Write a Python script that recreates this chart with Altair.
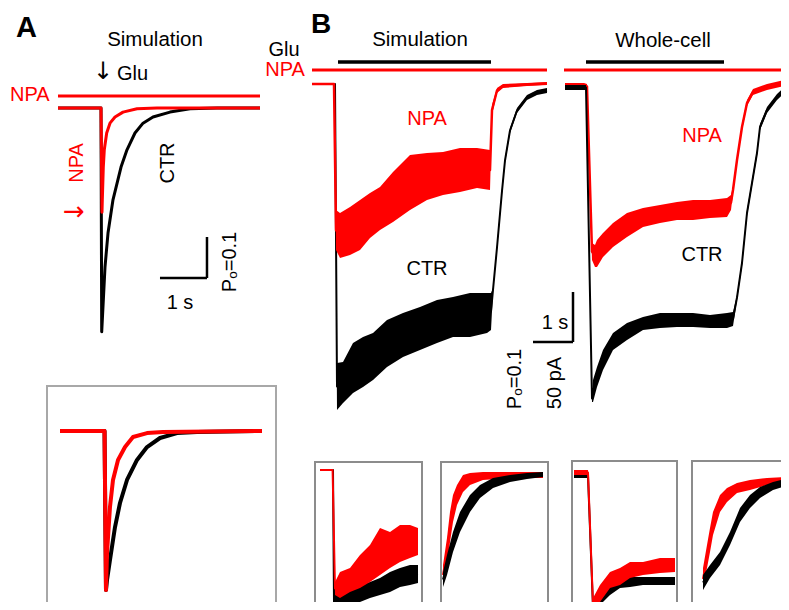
import altair as alt
import pandas as pd

# ---------------- data ----------------
# Panel A (simulation): time (s) from Glu onset, open probability Po
a_ctr_t = [-0.915, 0.0, 0.015, 0.085, 0.149, 0.255, 0.426, 0.553, 0.723, 0.894, 1.106, 1.468, 1.894, 2.468, 3.383]
a_ctr_po = [0, 0, 0.546, 0.388, 0.305, 0.224, 0.144, 0.102, 0.061, 0.037, 0.022, 0.010, 0.002, 0, 0]
a_npa_t = [-0.915, 0.0, 0.021, 0.028, 0.049, 0.070, 0.121, 0.191, 0.298, 0.468, 0.766, 1.191, 3.383]
a_npa_po = [0, 0, 0.254, 0.224, 0.144, 0.102, 0.061, 0.037, 0.022, 0.010, 0.002, 0, 0]

# Inset of panel A: normalised traces
ia_ctr_t = [-0.957, -0.01, 0.021, 0.043, 0.106, 0.213, 0.319, 0.468, 0.681, 0.894, 1.17, 1.532, 1.957, 3.34]
ia_ctr_n = [0, 0, 1.0, 0.937, 0.811, 0.604, 0.453, 0.308, 0.182, 0.101, 0.044, 0.013, 0.006, 0]
ia_npa_t = [-0.957, -0.01, 0.021, 0.043, 0.106, 0.170, 0.277, 0.426, 0.596, 0.894, 1.234, 3.34]
ia_npa_n = [0, 0, 1.0, 0.767, 0.478, 0.308, 0.182, 0.101, 0.038, 0.013, 0.006, 0]

# Panel B simulation: Po noise envelope (lo = upper edge, hi = lower edge)
bs_npa_t = [-0.575, -0.025, 0.025, 0.125, 0.375, 0.625, 0.875, 1.125, 1.45, 1.875, 2.3, 2.7, 3.125, 3.55, 3.875, 3.925, 4.05, 4.2, 4.8, 5.3]
bs_npa_lo = [0, 0, 0.252, 0.258, 0.246, 0.232, 0.218, 0.206, 0.176, 0.142, 0.138, 0.136, 0.128, 0.128, 0.132, 0.042, 0.008, 0.0, -0.002, -0.004]
bs_npa_hi = [0, 0, 0.332, 0.348, 0.342, 0.332, 0.308, 0.292, 0.276, 0.252, 0.232, 0.222, 0.216, 0.208, 0.212, 0.062, 0.018, 0.008, 0.004, 0.002]
bs_ctr_t = [-0.575, 0.0, 0.05, 0.2, 0.45, 0.7, 0.95, 1.3, 1.7, 2.125, 2.55, 2.95, 3.375, 3.8, 3.9, 3.95, 4.05, 4.175, 4.25, 4.375, 4.55, 4.8, 5.05, 5.3]
bs_ctr_lo = [0, 0, 0.558, 0.556, 0.518, 0.506, 0.498, 0.472, 0.458, 0.446, 0.432, 0.426, 0.418, 0.418, 0.418, 0.408, 0.322, 0.208, 0.148, 0.088, 0.048, 0.022, 0.012, 0.008]
bs_ctr_hi = [0, 0, 0.652, 0.638, 0.618, 0.606, 0.592, 0.566, 0.546, 0.532, 0.518, 0.506, 0.506, 0.498, 0.492, 0.416, 0.332, 0.220, 0.158, 0.098, 0.058, 0.032, 0.022, 0.018]

# Panel B whole-cell: current (pA) noise envelope
wc_ctr_t = [-0.525, -0.05, 0.0, 0.15, 0.175, 0.275, 0.425, 0.675, 1.025, 1.425, 1.85, 2.275, 2.675, 3.1, 3.525, 3.675, 3.775, 3.9, 4.025, 4.15, 4.275, 4.35, 4.525, 4.775, 5.05]
wc_ctr_hi = [2, 2, 2, -308, -293, -280, -263, -246, -236, -230, -226, -226, -226, -228, -226, -225, -208, -173, -123, -93, -63, -37, -20, -7, 3]
wc_ctr_lo = [-3, -3, -3, -315, -315, -300, -283, -263, -253, -243, -241, -240, -240, -241, -241, -239, -213, -179, -129, -99, -69, -43, -26, -13, -3]
wc_npa_t = [-0.525, -0.05, 0.025, 0.15, 0.225, 0.275, 0.425, 0.675, 1.025, 1.425, 1.85, 2.275, 2.675, 3.1, 3.525, 3.625, 3.675, 3.775, 3.9, 4.025, 4.175, 4.525, 5.05]
wc_npa_hi = [4, 4, 3, -156, -158, -153, -146, -136, -126, -121, -118, -115, -113, -113, -111, -108, -100, -70, -37, -13, -2, 3, 8]
wc_npa_lo = [-1, -1, -2, -173, -180, -180, -170, -160, -150, -140, -136, -133, -133, -131, -130, -123, -106, -76, -43, -19, -8, -3, 2]

# Small insets (normalised): 1 sim onset, 2 sim offset, 3 whole-cell onset, 4 whole-cell offset
b1_npa_t = [-0.325, -0.01, 0.05, 0.175, 0.425, 0.675, 0.925, 1.175, 1.425, 1.675, 1.925, 2.125]
b1_npa_lo = [0, 0, 0.862, 0.785, 0.754, 0.654, 0.577, 0.446, 0.477, 0.423, 0.423, 0.446]
b1_npa_hi = [0, 0, 0.962, 0.985, 0.938, 0.908, 0.862, 0.808, 0.754, 0.708, 0.677, 0.654]
b1_ctr_t = [-0.325, 0.0, 0.025, 0.175, 0.425, 0.675, 0.925, 1.175, 1.425, 1.675, 1.925, 2.125]
b1_ctr_lo = [0, 0, 0.908, 0.938, 0.908, 0.885, 0.862, 0.831, 0.785, 0.754, 0.731, 0.731]
b1_ctr_hi = [0, 0, 1.115, 1.077, 1.038, 1.015, 0.985, 0.962, 0.938, 0.9, 0.885, 0.869]

b2_npa_t = [0, 0.05, 0.0875, 0.125, 0.175, 0.25, 0.3375, 0.5, 0.8375, 1.25]
b2_npa_lo = [0.823, 0.584, 0.354, 0.204, 0.115, 0.027, 0.009, 0, 0, 0]
b2_npa_hi = [1.0, 0.823, 0.619, 0.442, 0.292, 0.177, 0.115, 0.071, 0.053, 0.053]
b2_ctr_t = [0, 0.05, 0.125, 0.2125, 0.3375, 0.4625, 0.625, 0.8375, 1.05, 1.25]
b2_ctr_lo = [0.885, 0.735, 0.531, 0.354, 0.204, 0.115, 0.053, 0.027, 0.009, 0]
b2_ctr_hi = [1.018, 0.912, 0.708, 0.531, 0.354, 0.230, 0.142, 0.088, 0.062, 0.044]

b3_t = [-0.4, -0.05, 0.075, 0.25, 0.5, 0.75, 1.0, 1.325, 1.75, 2.125]
b3_npa_lo = [-0.023, -0.023, 0.947, 0.848, 0.75, 0.72, 0.674, 0.674, 0.644, 0.644]
b3_npa_hi = [0.015, 0.015, 1.038, 0.977, 0.871, 0.848, 0.795, 0.773, 0.758, 0.75]
b3_ctr_lo = [0.008, 0.008, 0.977, 0.902, 0.833, 0.795, 0.788, 0.788, 0.788, 0.788]
b3_ctr_hi = [0.038, 0.038, 1.053, 1.0, 0.924, 0.871, 0.864, 0.848, 0.848, 0.848]

b4_npa_t = [0, 0.05, 0.0875, 0.125, 0.2125, 0.3, 0.425, 0.5875, 0.8, 1.075]
b4_npa_lo = [0.804, 0.598, 0.446, 0.304, 0.152, 0.089, 0.045, 0.018, 0, -0.009]
b4_npa_hi = [1.0, 0.804, 0.661, 0.509, 0.304, 0.214, 0.134, 0.107, 0.063, 0.045]
b4_ctr_t = [0, 0.0875, 0.2125, 0.3375, 0.4625, 0.5875, 0.7125, 0.875, 1.075]
b4_ctr_lo = [0.866, 0.777, 0.661, 0.482, 0.268, 0.152, 0.080, 0.036, 0]
b4_ctr_hi = [1.0, 0.893, 0.777, 0.598, 0.393, 0.268, 0.179, 0.107, 0.063]

# Application periods (s)
npa_a = [-0.915, 3.383]
glu_sim = [0.075, 3.9]
npa_sim = [-0.575, 5.3]
glu_wc = [0.0, 3.45]
npa_wc = [-0.55, 5.075]

# Scale bars: [t_start, value_start] ; 1 s and Po 0.1
sb_a = [1.255, 0.4146]
sb_b = [4.95, 0.516]

# ---------------- layout helpers ----------------
OFF = 8
FONT = "Liberation Sans"
RED = "#ff0000"
one = pd.DataFrame({"k": [0]})


def sc(d0, d1, p0, p1):
    return alt.Scale(domain=[d0, d1], range=[p0 - OFF, p1 - OFF], nice=False, zero=False)


XA, YA = sc(0, 1, 101, 148), sc(0, 0.1, 108, 149)
XIA, YIA = sc(0, 1, 105, 152), sc(0, 1, 431, 590)
XS, YS = sc(0, 1, 335, 375), sc(0, 0.1, 84, 134)
XW, YW = sc(0, 1, 586, 626), sc(0, -50, 87, 137)
X1, Y1 = sc(0, 1, 333, 373), sc(0, 1, 470, 600)
X2, Y2 = sc(0, 1, 443, 523), sc(0, 1, 472, 585)
X3, Y3 = sc(0, 1, 590, 630), sc(0, 1, 473, 605)
X4, Y4 = sc(0, 1, 703, 783), sc(0, 1, 478, 590)


def line_layer(t, v, color, xs, ys, lw):
    df = pd.DataFrame({"t": t, "v": v})
    return [alt.Chart(df).mark_line(color=color, strokeWidth=lw, strokeJoin="round").encode(
        x=alt.X("t:Q", scale=xs, axis=None), y=alt.Y("v:Q", scale=ys, axis=None))]


def band_layer(t, lo, hi, color, xs, ys, lw=2.0):
    df = pd.DataFrame({"t": t, "lo": lo, "hi": hi})
    base = alt.Chart(df)
    area = base.mark_area(color=color, opacity=1).encode(
        x=alt.X("t:Q", scale=xs, axis=None),
        y=alt.Y("lo:Q", scale=ys, axis=None), y2="hi:Q")
    line = base.transform_calculate(m="(datum.lo + datum.hi) / 2").mark_line(
        color=color, strokeWidth=lw, strokeJoin="round").encode(
        x=alt.X("t:Q", scale=xs, axis=None), y=alt.Y("m:Q", scale=ys, axis=None))
    return [area, line]


def hbar(span, ypx, color, xs, w=3):
    df = pd.DataFrame({"t0": [span[0]], "t1": [span[1]]})
    return [alt.Chart(df).mark_rule(color=color, strokeWidth=w).encode(
        x=alt.X("t0:Q", scale=xs, axis=None), x2="t1:Q", y=alt.value(ypx - OFF))]


def scalebar(anchor, dv, xs, ys):
    t0, v0 = anchor
    df = pd.DataFrame({"t0": [t0, t0 + 1], "t1": [t0 + 1, t0 + 1],
                       "v0": [v0, v0 - dv], "v1": [v0, v0]})
    return [alt.Chart(df).mark_rule(color="black", strokeWidth=2.5).encode(
        x=alt.X("t0:Q", scale=xs, axis=None), x2="t1:Q",
        y=alt.Y("v0:Q", scale=ys, axis=None), y2="v1:Q")]


def txt(s, xpx, ypx, color="black", size=20, angle=0, weight="normal", align="center",
        baseline="middle", font=FONT):
    return [alt.Chart(one).mark_text(text=s, font=font, fontSize=size, color=color, angle=angle,
                                     fontWeight=weight, align=align, baseline=baseline).encode(
        x=alt.value(xpx - OFF), y=alt.value(ypx - OFF))]


def frame(x0, y0, x1, y1, color="#999999"):
    return [alt.Chart(one).mark_rect(fillOpacity=0, stroke=color, strokeWidth=2).encode(
        x=alt.value(x0 - OFF), x2=alt.value(x1 - OFF), y=alt.value(y0 - OFF), y2=alt.value(y1 - OFF))]


layers = []
# frames
layers += frame(47, 386, 276, 640, "#a8a8a8")
layers += frame(315, 462, 422, 640, "#8c8c8c")
layers += frame(441, 462, 548, 640, "#8c8c8c")
layers += frame(572, 461, 677, 640, "#8c8c8c")
layers += frame(692, 461, 820, 640, "#8c8c8c")

# Panel A
layers += hbar(npa_a, 96, RED, XA, 3)
layers += line_layer(a_ctr_t, a_ctr_po, "black", XA, YA, 3)
layers += line_layer(a_npa_t, a_npa_po, RED, XA, YA, 3)
layers += scalebar(sb_a, 0.1, XA, YA)
layers += line_layer(ia_ctr_t, ia_ctr_n, "black", XIA, YIA, 4)
layers += line_layer(ia_npa_t, ia_npa_n, RED, XIA, YIA, 4)

# Panel B main traces
layers += hbar(glu_sim, 62, "black", XS, 3.5)
layers += hbar(npa_sim, 70, RED, XS, 3)
layers += band_layer(bs_ctr_t, bs_ctr_lo, bs_ctr_hi, "black", XS, YS, 2)
layers += band_layer(bs_npa_t, bs_npa_lo, bs_npa_hi, RED, XS, YS, 2.5)
layers += hbar(glu_wc, 62, "black", XW, 3.5)
layers += hbar(npa_wc, 70, RED, XW, 3)
layers += band_layer(wc_npa_t, wc_npa_lo, wc_npa_hi, RED, XW, YW, 2.5)
layers += band_layer(wc_ctr_t, wc_ctr_lo, wc_ctr_hi, "black", XW, YW, 2)
layers += scalebar(sb_b, 0.1, XS, YS)

# Small insets
layers += band_layer(b1_ctr_t, b1_ctr_lo, b1_ctr_hi, "black", X1, Y1, 2)
layers += band_layer(b1_npa_t, b1_npa_lo, b1_npa_hi, RED, X1, Y1, 2)
layers += band_layer(b2_npa_t, b2_npa_lo, b2_npa_hi, RED, X2, Y2, 2)
layers += band_layer(b2_ctr_t, b2_ctr_lo, b2_ctr_hi, "black", X2, Y2, 2)
layers += band_layer(b3_t, b3_ctr_lo, b3_ctr_hi, "black", X3, Y3, 2)
layers += band_layer(b3_t, b3_npa_lo, b3_npa_hi, RED, X3, Y3, 2)
layers += band_layer(b4_npa_t, b4_npa_lo, b4_npa_hi, RED, X4, Y4, 2)
layers += band_layer(b4_ctr_t, b4_ctr_lo, b4_ctr_hi, "black", X4, Y4, 2)

# Texts panel A
layers += txt("A", 16, 37, size=29, weight="bold", align="left", baseline="alphabetic")
layers += txt("Simulation", 155, 40, size=20.5)
layers += txt("\u2193", 103, 72, size=24, font="DejaVu Sans")
layers += txt("Glu", 117, 74, align="left")
layers += txt("NPA", 10, 95, color=RED, align="left")
layers += txt("NPA", 77, 163, color=RED, angle=270)
layers += txt("CTR", 168, 163, angle=270)
layers += txt("\u2192", 74, 212, color=RED, size=26, font="DejaVu Sans")
layers += txt("1 s", 180, 303)
layers += txt("P\u2092=0.1", 230, 262, angle=270)

# Texts panel B
layers += txt("B", 311, 33, size=28, weight="bold", align="left", baseline="alphabetic")
layers += txt("Glu", 284, 50)
layers += txt("NPA", 285, 70, color=RED)
layers += txt("Simulation", 420, 40, size=20.5)
layers += txt("Whole-cell", 663, 41, size=20.5)
layers += txt("NPA", 427, 119, color=RED)
layers += txt("CTR", 427, 269)
layers += txt("NPA", 702, 136, color=RED)
layers += txt("CTR", 702, 255)
layers += txt("1 s", 555, 323)
layers += txt("P\u2092=0.1", 515, 379, angle=270)
layers += txt("50 pA", 555, 383, angle=270)

chart = alt.layer(*layers).resolve_scale(x="independent", y="independent").properties(
    width=773, height=594, padding=0, autosize="none"
).configure_view(stroke=None)

chart.save("out.html", embed_options={"renderer": "svg", "actions": False})
